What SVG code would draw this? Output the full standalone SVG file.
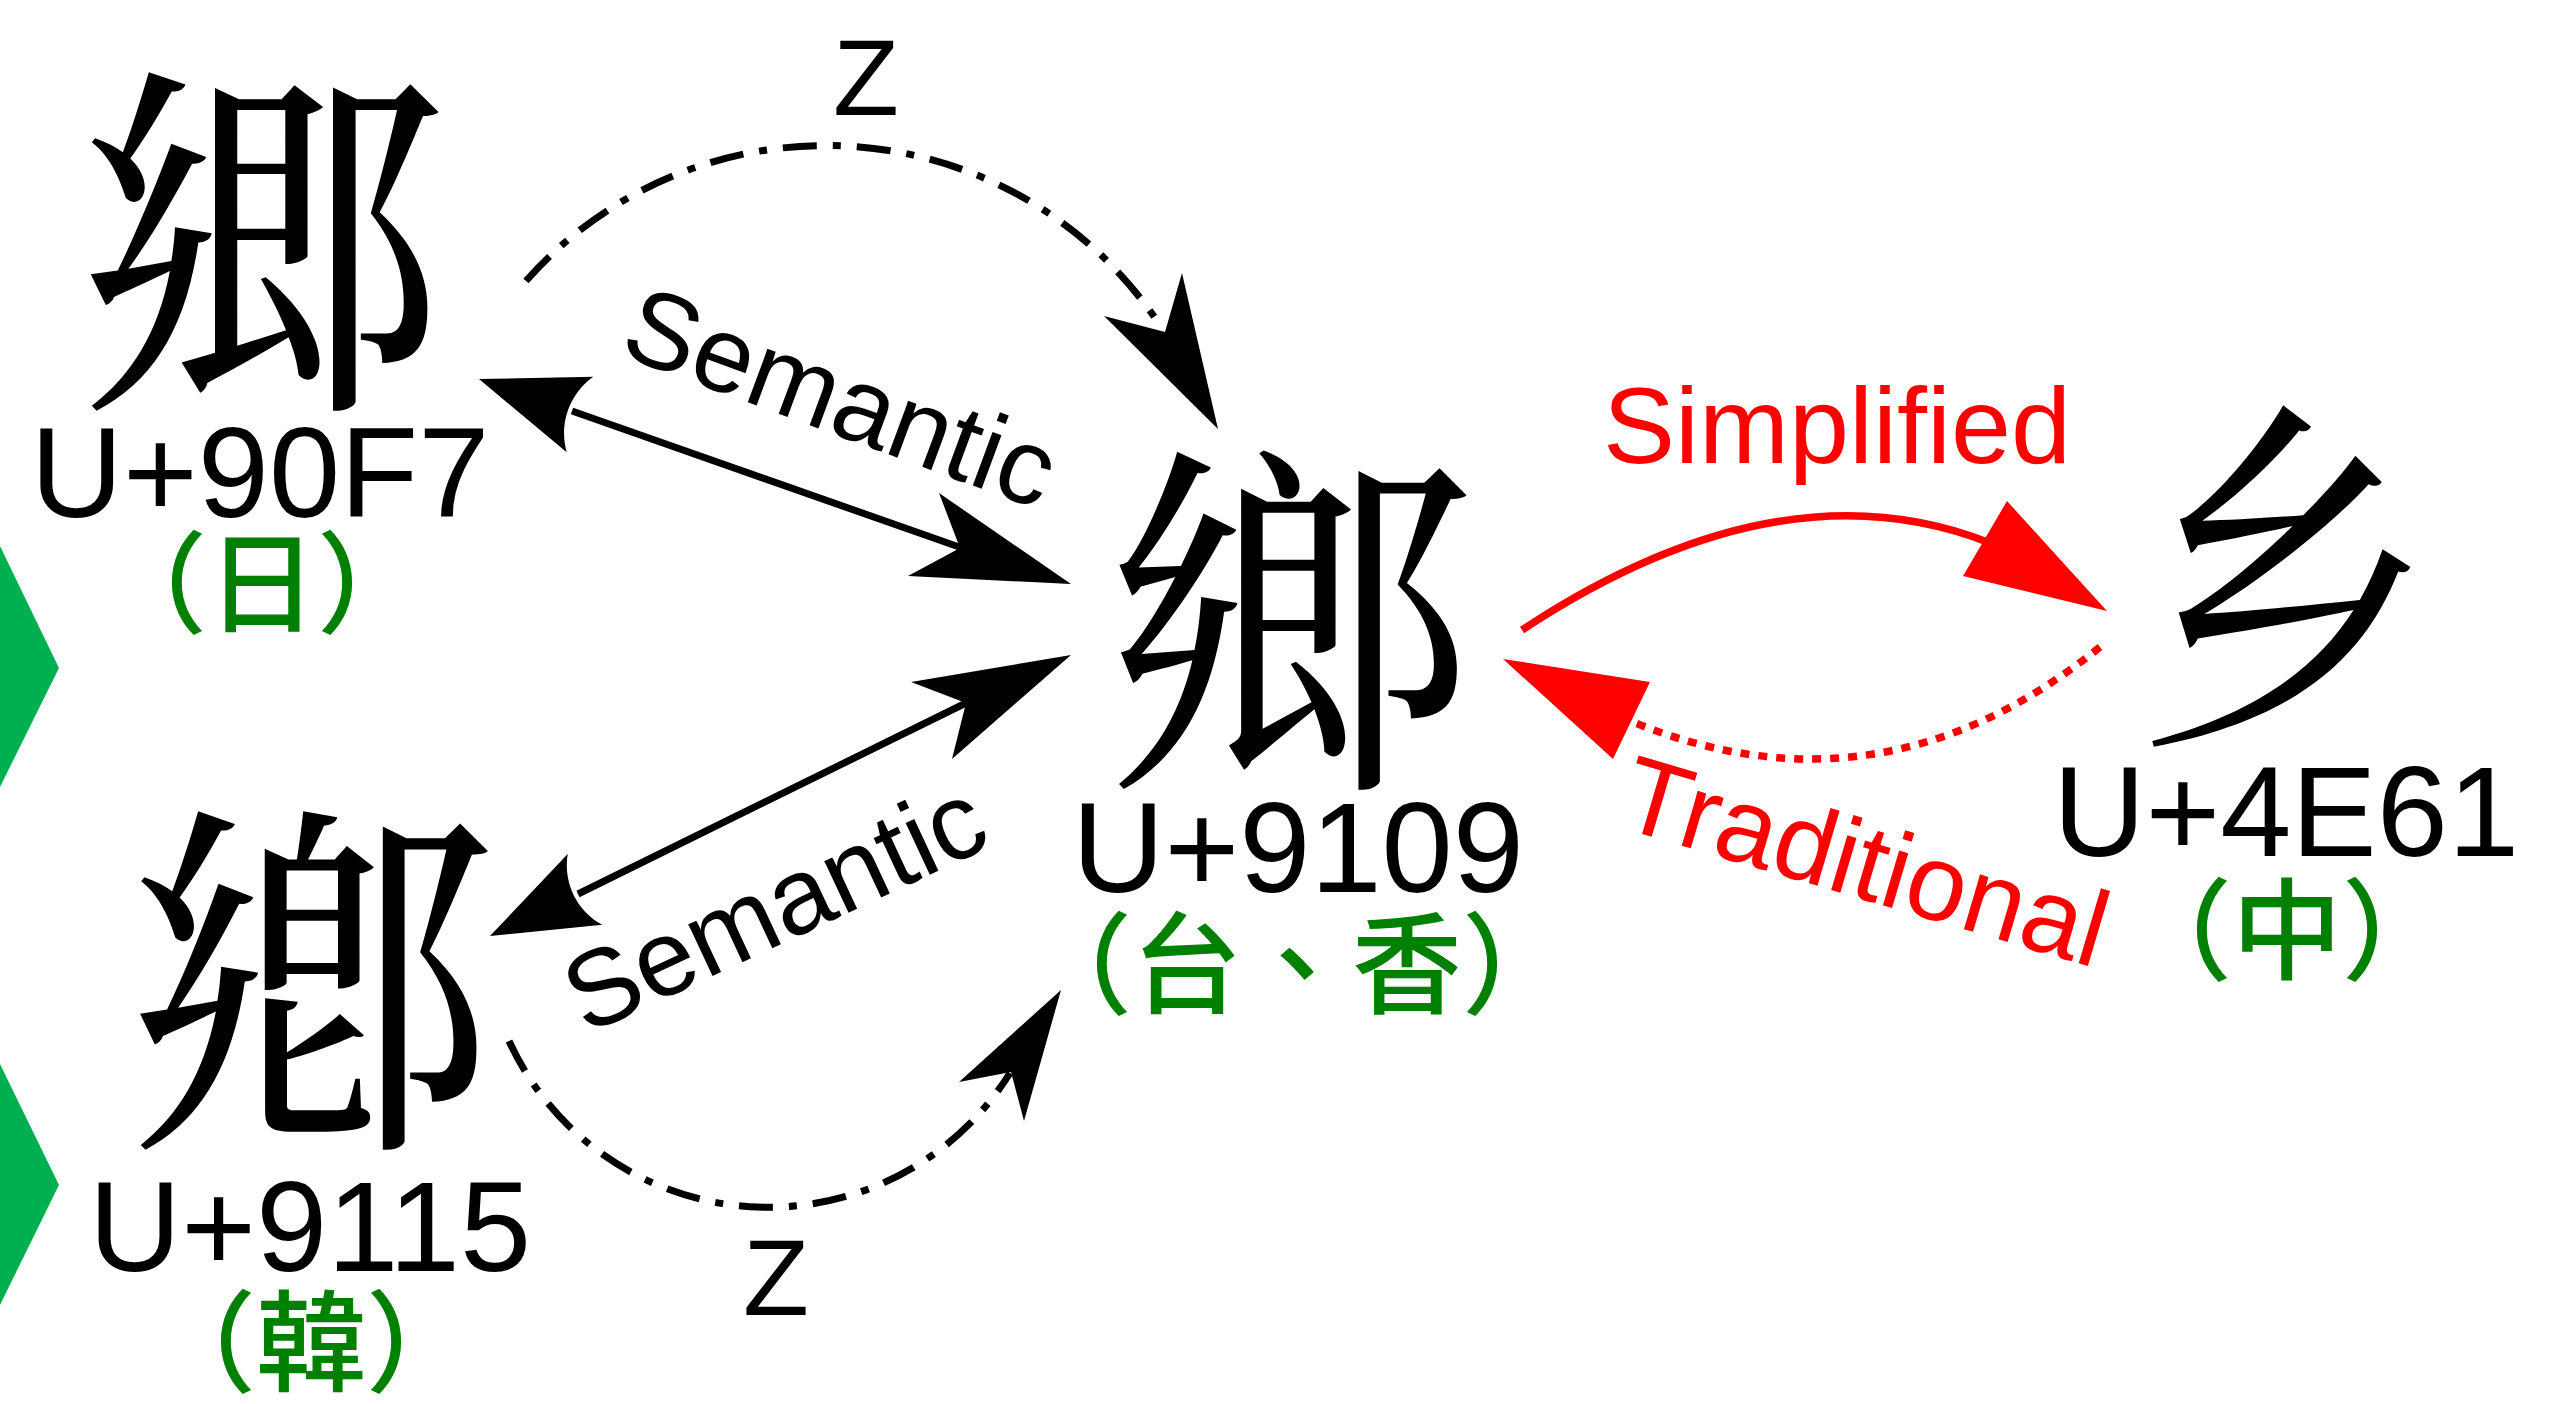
<svg xmlns="http://www.w3.org/2000/svg" width="2558" height="1404" viewBox="0 0 2558 1404">
  <style>
    .glyph { font-size: 370px; text-anchor: middle; fill: #000; }
    .jp { font-family: "Noto Serif CJK JP", "Noto Sans CJK JP", serif; }
    .tc { font-family: "Noto Serif CJK TC", "Noto Sans CJK TC", serif; }
    .kr { font-family: "Noto Serif CJK KR", "Noto Sans CJK KR", serif; }
    .sc { font-family: "Noto Serif CJK SC", "Noto Sans CJK SC", serif; }
    .code { font-family: "Liberation Sans", Arial, sans-serif; font-size: 128px; text-anchor: middle; fill: #000; }
    .region { font-size: 110px; text-anchor: middle; fill: #008000; font-weight: 500; }
    .rjp { font-family: "Noto Sans CJK JP", sans-serif; }
    .rtc { font-family: "Noto Sans CJK TC", sans-serif; }
    .rkr { font-family: "Noto Sans CJK KR", sans-serif; }
    .rsc { font-family: "Noto Sans CJK SC", sans-serif; }
    .label { font-family: "Liberation Sans", Arial, sans-serif; font-size: 108px; text-anchor: middle; }
    .black { fill: #000; }
    .red { fill: #ff0000; }
    .line { fill: none; stroke: #000; stroke-width: 7; }
    .zline { fill: none; stroke: #000; stroke-width: 7; stroke-dasharray: 34 16 8 16; }
    .redline { fill: none; stroke: #ff0000; stroke-width: 7.5; }
    .reddots { fill: none; stroke: #ff0000; stroke-width: 7.5; stroke-dasharray: 9 9; }
    .head { fill: #000; }
    .redhead { fill: #ff0000; }
    .tab { fill: #00b050; }
  </style>

  <rect width="2558" height="1404" fill="#fff"/>

  <!-- side tabs at the left edge -->
  <polygon class="tab" points="0,546 59,668 0,787"/>
  <polygon class="tab" points="0,1064 59,1185 0,1305"/>

  <!-- connectors -->
  <g id="connectors">
    <!-- Semantic: U+90F7 <-> U+9109 -->
    <line class="line" x1="572" y1="411" x2="962" y2="548"/>
    <path class="head" d="M479,379 L593.3,376.7 C569.3,393.8 558.7,424 566.7,452.3 Z"/>
    <path class="head" d="M1071,584 L939,493 L960,548 L908,576 Z"/>
    <text class="label black" transform="translate(828,432) rotate(20.3)">Semantic</text>

    <!-- Semantic: U+9115 <-> U+9109 -->
    <line class="line" x1="578" y1="894" x2="968" y2="702"/>
    <path class="head" d="M490,936 L567.7,854 C562.9,882.4 576.9,911.2 602.3,924.8 Z"/>
    <path class="head" d="M1071,655 L911,682 L966,703 L952,759 Z"/>
    <text class="label black" transform="translate(790,940) rotate(-25)">Semantic</text>

    <!-- Z: U+90F7 -> U+9109 -->
    <path class="zline" d="M526,281 A400,400 0 0 1 1163,330"/>
    <path class="head" d="M1218,429 L1104,316 L1165,332 L1182,273 Z"/>
    <text class="label black" x="866" y="115">Z</text>

    <!-- Z: U+9115 -> U+9109 -->
    <path class="zline" d="M509,1041 A285,285 0 0 0 1010,1073"/>
    <path class="head" d="M1061,990 L959,1082 L1011,1072 L1024,1121 Z"/>
    <text class="label black" x="776" y="1315">Z</text>

    <!-- Simplified: U+9109 -> U+4E61 -->
    <path class="redline" d="M1522,630 Q1780,460 1990,543"/>
    <polygon class="redhead" points="2107,611 2007,501 1963,576"/>
    <text class="label red" x="1837" y="463">Simplified</text>

    <!-- Traditional: U+4E61 -> U+9109 -->
    <path class="reddots" d="M2100,647 Q1880,825 1628,720"/>
    <polygon class="redhead" points="1503,659 1650,682 1613,759"/>
    <text class="label red" transform="translate(1855,897) rotate(16.5)">Traditional</text>
  </g>

  <!-- U+90F7 (Japan) -->
  <g id="node-90F7">
    <text class="glyph jp" x="262" y="382">郷</text>
    <text class="code" x="260" y="517">U+90F7</text>
    <text class="region rjp" x="262" y="624">（日）</text>
  </g>

  <!-- U+9115 (Korea) -->
  <g id="node-9115">
    <text class="glyph kr" x="311" y="1121">鄕</text>
    <text class="code" x="310" y="1271">U+9115</text>
    <text class="region rkr" x="311" y="1383">（韓）</text>
  </g>

  <!-- U+9109 (Taiwan, Hong Kong) -->
  <g id="node-9109">
    <text class="glyph tc" x="1290" y="761">鄉</text>
    <text class="code" x="1298" y="892">U+9109</text>
    <text class="region rtc" x="1297" y="1005">（台、香）</text>
  </g>

  <!-- U+4E61 (Mainland China) -->
  <g id="node-4E61">
    <text class="glyph sc" transform="translate(2284,718) scale(0.8,1)" x="0" y="0">乡</text>
    <text class="code" x="2286" y="856">U+4E61</text>
    <text class="region rsc" x="2287" y="971">（中）</text>
  </g>
</svg>
